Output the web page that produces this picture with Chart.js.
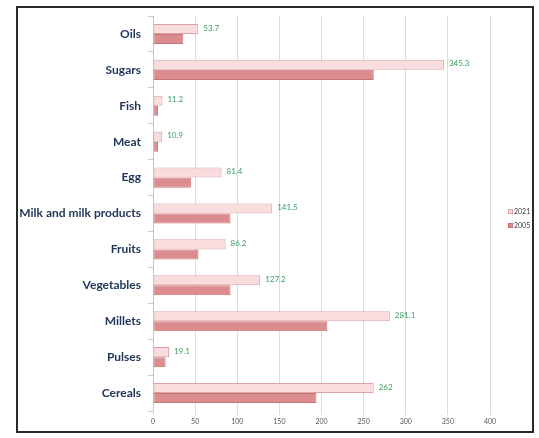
<!DOCTYPE html>
<html>
<head>
<meta charset="utf-8">
<script src="https://cdn.jsdelivr.net/npm/chart.js@4.4.1/dist/chart.umd.min.js"></script>
<style>
  html, body { margin: 0; padding: 0; background: #fff; }
  #frame {
    position: absolute; left: 16px; top: 6px;
    width: 514px; height: 423px;
    border: 2px solid #2a2a2a;
    background: #fff;
  }
</style>
</head>
<body>
<div id="frame"><canvas id="myChart" width="514" height="423"></canvas></div>
<script>
// 카테고리와 값
const categories = ["Oils", "Sugars", "Fish", "Meat", "Egg", "Milk and milk products",
  "Fruits", "Vegetables", "Millets", "Pulses", "Cereals"];
const values2021 = [53.7, 345.3, 11.2, 10.9, 81.4, 141.5, 86.2, 127.2, 281.1, 19.1, 262];
const values2005 = [36, 262, 6, 6, 45, 92, 54, 92, 207, 15, 194];
const seriesNames = ["2021", "2005"];
const xTicks = [0, 50, 100, 150, 200, 250, 300, 350, 400];

// 2021 막대 끝에 값 표시
const valueLabels = {
  id: "valueLabels",
  afterDatasetsDraw(chart) {
    const ctx = chart.ctx;
    const meta = chart.getDatasetMeta(0);
    ctx.save();
    ctx.font = "8px Lato, sans-serif";
    ctx.fillStyle = "#3a9e62";
    ctx.textBaseline = "middle";
    ctx.textAlign = "left";
    meta.data.forEach((bar, i) => {
      ctx.fillText(String(values2021[i]), bar.x + 5, bar.y - 1);
    });
    ctx.restore();
  }
};

// 오른쪽 범례
const sideLegend = {
  id: "sideLegend",
  afterDraw(chart) {
    const ctx = chart.ctx;
    const area = chart.chartArea;
    const mid = (area.top + area.bottom) / 2;
    ctx.save();
    ctx.font = "7px Lato, sans-serif";
    ctx.textBaseline = "middle";
    chart.data.datasets.forEach((ds, i) => {
      const x = area.right + 18;
      const y = mid - 2 + i * 14;
      ctx.fillStyle = ds.backgroundColor;
      ctx.strokeStyle = ds.borderColor;
      ctx.lineWidth = 1;
      ctx.fillRect(x, y - 2.5, 5, 5);
      ctx.strokeRect(x + 0.5, y - 2, 4, 4);
      ctx.fillStyle = "#3b3b3b";
      ctx.fillText(ds.label, x + 6, y);
    });
    ctx.restore();
  }
};

const ctx = document.getElementById("myChart").getContext("2d");
const myChart = new Chart(ctx, {
  type: "bar",
  data: {
    labels: categories,
    datasets: [
      {
        label: seriesNames[0],
        data: values2021,
        backgroundColor: "#f9dcdd",
        borderColor: "#dba3a6",
        borderWidth: 1,
        borderSkipped: false,
        categoryPercentage: 0.56,
        barPercentage: 1
      },
      {
        label: seriesNames[1],
        data: values2005,
        backgroundColor: "#da8c8f",
        borderColor: "#c97377",
        borderWidth: 1,
        borderSkipped: false,
        categoryPercentage: 0.56,
        barPercentage: 1
      }
    ]
  },
  options: {
    indexAxis: "y",
    responsive: false,
    animation: false,
    layout: { padding: { left: 0, right: 42, top: 8, bottom: 0 } },
    plugins: {
      legend: { display: false },
      tooltip: { enabled: false }
    },
    scales: {
      x: {
        min: 0,
        max: 400,
        afterBuildTicks(scale) {
          scale.ticks = xTicks.map(v => ({ value: v }));
        },
        afterFit(scale) { scale.height = 20; },
        grid: { color: "#dcdcdc", lineWidth: 1, tickLength: 4, drawTicks: true },
        border: { display: false },
        ticks: { font: { size: 7, family: "Lato" }, color: "#555", padding: 3 }
      },
      y: {
        afterFit(scale) {
          scale.width = 135;
          scale.paddingTop = 0;
          scale.paddingBottom = 0;
        },
        grid: { drawOnChartArea: false, color: "#c8c8c8", tickLength: 5, offset: true },
        border: { display: true, color: "#c8c8c8" },
        ticks: {
          font: { size: 12, weight: "bold", family: "Lato" },
          color: "#22385a",
          padding: 7
        }
      }
    }
  },
  plugins: [valueLabels, sideLegend]
});
</script>
</body>
</html>
